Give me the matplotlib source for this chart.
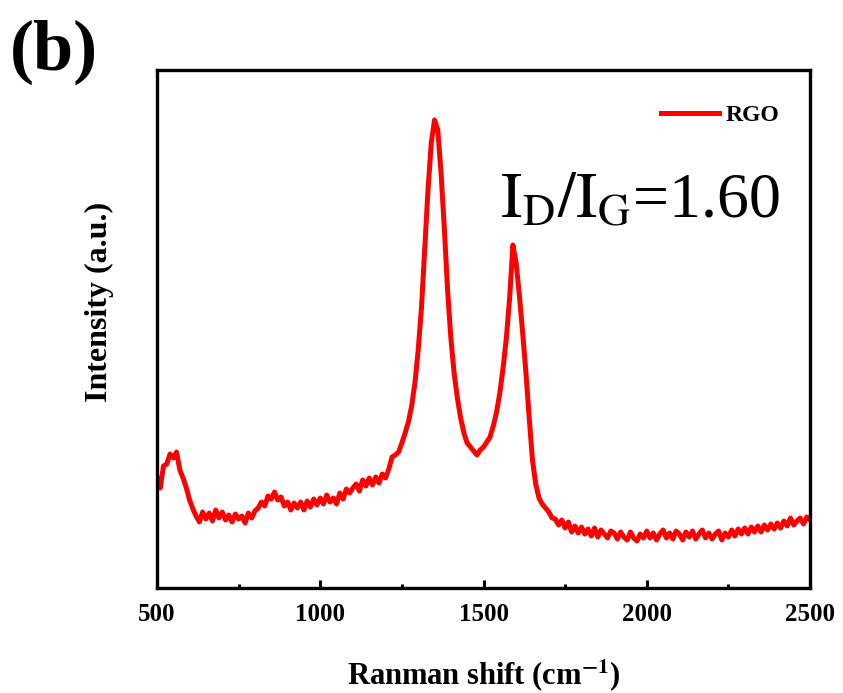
import numpy as np
import matplotlib
matplotlib.use("Agg")
import matplotlib.pyplot as plt
from matplotlib.ticker import MultipleLocator

plt.rcParams['font.family'] = ['Liberation Serif', 'DejaVu Serif']
plt.rcParams['mathtext.fontset'] = 'stix'

# Raman shift (cm-1), 10 cm-1 steps
shift = np.arange(500, 2510, 10)

# intensity (arbitrary units)
intensity = [
    111, 100, 122, 124, 134, 130, 136, 118, 110, 100,   # 500-590
    88, 79, 72, 66, 76, 69, 75, 67, 78, 70,             # 600-690
    76, 68, 73, 66, 74, 69, 72, 65, 75, 70,             # 700-790
    77, 80, 86, 82, 92, 89, 96, 88, 91, 82,             # 800-890
    86, 78, 85, 80, 86, 78, 87, 81, 89, 83,             # 900-990
    90, 84, 93, 86, 90, 84, 95, 89, 99, 95,             # 1000-1090
    100, 104, 97, 108, 102, 110, 103, 111, 105, 114,    # 1100-1190
    110, 119, 131, 133, 136, 145, 155, 166, 182, 205,   # 1200-1290
    238, 280, 340, 398, 445, 468, 458, 415, 360, 298,   # 1300-1390
    250, 215, 190, 170, 155, 145, 141, 137, 133, 138,   # 1400-1490
    141, 146, 151, 162, 176, 195, 220, 250, 290, 343,   # 1500-1590
    325, 292, 255, 215, 170, 128, 104, 90, 84, 80,      # 1600-1690
    76, 70, 69, 63, 68, 60, 66, 56, 62, 55,             # 1700-1790
    61, 54, 59, 52, 60, 51, 58, 54, 50, 57,             # 1800-1890
    55, 49, 56, 51, 48, 56, 50, 47, 54, 50,             # 1900-1990
    57, 50, 55, 48, 54, 58, 50, 55, 49, 57,             # 2000-2090
    54, 48, 56, 51, 57, 49, 54, 58, 50, 55,             # 2100-2190
    49, 54, 57, 48, 55, 51, 58, 52, 59, 54,             # 2200-2290
    60, 54, 61, 56, 62, 56, 63, 58, 64, 59,             # 2300-2390
    65, 60, 67, 62, 70, 63, 67, 70, 64, 71,             # 2400-2490
    68,                                                 # 2500
]

fig = plt.figure(figsize=(8.43, 6.93), dpi=100)
ax = fig.add_axes([0.1862, 0.1515, 0.7747, 0.7475])

ax.plot(shift, intensity, color='#ff0000', lw=3.6, label='RGO')

ax.set_xlim(500, 2500)
ax.set_ylim(0, 518)
ax.xaxis.set_major_locator(MultipleLocator(500))
ax.xaxis.set_minor_locator(MultipleLocator(250))
ax.tick_params(axis='x', which='major', direction='in', length=6, width=2.2,
               labelsize=18, pad=11)
ax.tick_params(axis='x', which='minor', direction='in', length=3, width=2.2)
ax.set_yticks([])
for lbl in ax.get_xticklabels():
    lbl.set_fontweight('bold')
for sp in ax.spines.values():
    sp.set_linewidth(2.4)

ax.set_xlabel(r'Ranman shift (cm$^{\mathbf{-1}}$)', fontsize=22, fontweight='bold')
ax.xaxis.set_label_coords(0.5, -0.135)
ax.set_ylabel('Intensity (a.u.)', fontsize=23, fontweight='bold')
ax.yaxis.set_label_coords(-0.066, 0.553)

ax.text(0.525, 0.715, r'$\mathrm{I_D/I_G}$=1.60', transform=ax.transAxes,
        fontsize=46, ha='left', va='baseline')

ax.legend(loc='center right', bbox_to_anchor=(0.985, 0.913), frameon=False,
          handlelength=2.45, handletextpad=0.25,
          prop={'weight': 'bold', 'size': 17})

fig.text(0.012, 0.878, '(b)', fontsize=52, fontweight='bold', ha='left', va='bottom')

fig.savefig('out.png', dpi=100)
